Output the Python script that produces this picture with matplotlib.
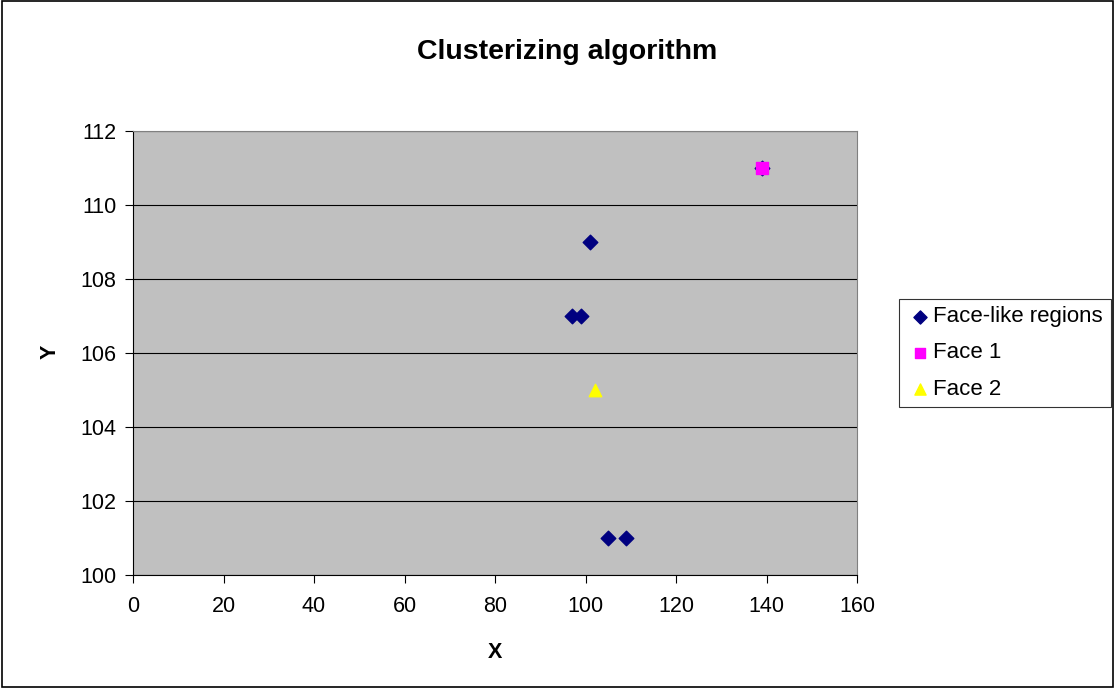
import matplotlib
matplotlib.use("Agg")
import matplotlib.pyplot as plt

plt.rcParams['font.family'] = ['Liberation Sans', 'DejaVu Sans']

face_like_x = [101, 97, 99, 105, 109, 139]
face_like_y = [109, 107, 107, 101, 101, 111]
face1_x = [139]
face1_y = [111]
face2_x = [102]
face2_y = [105]
x_ticks = [0, 20, 40, 60, 80, 100, 120, 140, 160]
y_ticks = [100, 102, 104, 106, 108, 110, 112]

fig = plt.figure(figsize=(11.15, 6.88), dpi=100)
fig.patch.set_facecolor('white')
border = plt.Rectangle((0.002, 0.002), 0.996, 0.996, transform=fig.transFigure,
                       fill=False, edgecolor='black', linewidth=1.2)
fig.add_artist(border)

ax = fig.add_axes([133/1115, 1-575/688, (857-133)/1115, (575-131)/688])
ax.set_facecolor('#C0C0C0')
ax.set_xlim(0, 160)
ax.set_ylim(100, 112)
ax.set_xticks(x_ticks)
ax.set_yticks(y_ticks)
ax.yaxis.grid(True, color='black', linewidth=0.8)
ax.set_axisbelow(True)
for s in ax.spines.values():
    s.set_color('#808080')
ax.spines['left'].set_color('black')
ax.spines['bottom'].set_color('black')
ax.tick_params(direction='out', length=6, labelsize=15.5, colors='black')
ax.tick_params(axis='x', pad=9)
ax.tick_params(axis='y', pad=6)

ax.scatter(face_like_x, face_like_y, marker='D', s=55, color='#000080', label='Face-like regions', zorder=3)
ax.scatter(face1_x, face1_y, marker='s', s=70, color='#FF00FF', label='Face 1', zorder=4)
ax.scatter(face2_x, face2_y, marker='^', s=80, color='#FFFF00', label='Face 2', zorder=4)

fig.text(495/1115, 1-652/688, 'X', fontsize=15.5, fontweight='bold', ha='center', va='center')
fig.text(50/1115, 1-352/688, 'Y', fontsize=15.5, fontweight='bold', ha='center', va='center', rotation=90)
fig.text(567/1115, 1-52/688, 'Clusterizing algorithm', fontsize=20.5, fontweight='bold',
         ha='center', va='center')

leg = fig.legend(loc='center left', bbox_to_anchor=(899/1115, 1-353/688), fontsize=16,
                 frameon=True, fancybox=False, edgecolor='black', handletextpad=0.0,
                 borderpad=0.35, labelspacing=0.68, handlelength=1.2, markerscale=0.9,
                 borderaxespad=0)
leg.get_frame().set_linewidth(0.8)

fig.savefig('out.png', dpi=100)
